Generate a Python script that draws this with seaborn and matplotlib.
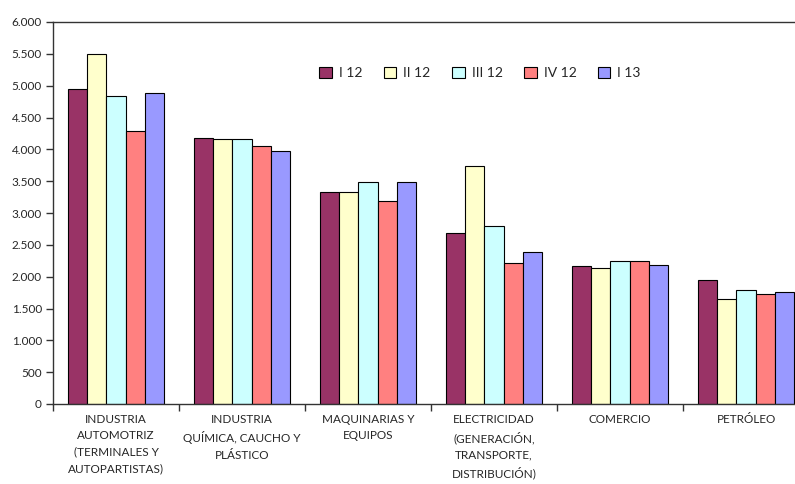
import matplotlib
matplotlib.use("Agg")
import matplotlib.pyplot as plt
from matplotlib.ticker import FuncFormatter, FixedLocator
import seaborn as sns
import pandas as pd

categories = [
    "INDUSTRIA\nAUTOMOTRIZ\n(TERMINALES Y\nAUTOPARTISTAS)",
    "INDUSTRIA\nQUÍMICA, CAUCHO Y\nPLÁSTICO",
    "MAQUINARIAS Y\nEQUIPOS",
    "ELECTRICIDAD\n(GENERACIÓN,\nTRANSPORTE,\nDISTRIBUCIÓN)",
    "COMERCIO",
    "PETRÓLEO",
]
series = ["I 12", "II 12", "III 12", "IV 12", "I 13"]
i12 = [4940, 4180, 3330, 2690, 2160, 1940]
ii12 = [5500, 4160, 3330, 3740, 2130, 1650]
iii12 = [4830, 4160, 3490, 2800, 2250, 1790]
iv12 = [4290, 4050, 3190, 2220, 2250, 1720]
i13 = [4890, 3970, 3480, 2390, 2180, 1760]
colors = ["#993366", "#FFFFCC", "#CCFFFF", "#FF8080", "#9999FF"]

rows = []
for name, vals in zip(series, [i12, ii12, iii12, iv12, i13]):
    for cat, v in zip(categories, vals):
        rows.append({"sector": cat, "periodo": name, "valor": v})
df = pd.DataFrame(rows)

sns.set_theme(style="white")
plt.rcParams["font.family"] = ["Lato", "DejaVu Sans"]

fig = plt.figure(figsize=(7.95, 4.84), dpi=100)
ax = fig.add_axes([53 / 795, 1 - 404 / 484, 756 / 795, 382 / 484])

sns.barplot(data=df, x="sector", y="valor", hue="periodo", order=categories,
            hue_order=series, palette=colors, width=0.76, edgecolor="black",
            linewidth=0.8, saturation=1, ax=ax, legend=True)

ax.set_ylim(0, 6000)
ax.set_xlim(-0.5, len(categories) - 0.5)
ax.set_yticks(range(0, 6001, 500))
ax.yaxis.set_major_formatter(FuncFormatter(lambda v, p: f"{int(v):,}".replace(",", ".")))
ax.set_xlabel("")
ax.set_ylabel("")

for side in ["left", "bottom", "top"]:
    ax.spines[side].set_visible(True)
    ax.spines[side].set_color("#333333")
    ax.spines[side].set_linewidth(1.0)
ax.spines["right"].set_visible(False)

ax.tick_params(axis="y", which="major", direction="out", length=5, width=1,
               color="#333333", labelsize=8.5, pad=3, left=True)
ax.tick_params(axis="x", which="major", length=0, pad=7)
ax.xaxis.set_minor_locator(FixedLocator([i - 0.5 for i in range(len(categories) + 1)]))
ax.tick_params(axis="x", which="minor", direction="out", length=5, width=1,
               color="#333333", bottom=True)
ax.set_xticks(range(len(categories)))
ax.set_xticklabels(categories, fontsize=8.5, linespacing=1.6,
                   multialignment="center")

handles, labels = ax.get_legend_handles_labels()
ax.legend(handles, labels, loc="center", bbox_to_anchor=(0.565, 0.866), ncol=5,
          frameon=False, fontsize=10, handlelength=0.9, handleheight=0.9,
          handletextpad=0.5, columnspacing=1.55)

fig.savefig("out.png", dpi=100)
